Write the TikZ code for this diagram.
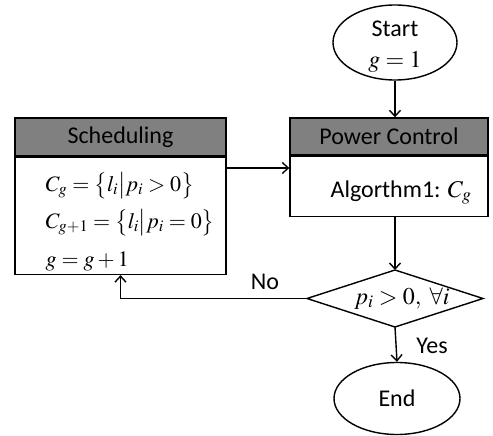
\documentclass[tikz,border=0pt]{standalone}
\usepackage{mathptmx}
\usepackage{fontspec}
\setmainfont{Carlito}
\usetikzlibrary{arrows.meta,shapes.geometric}
\definecolor{hdrgray}{RGB}{128,128,128}
\begin{document}
\begin{tikzpicture}[x=1pt,y=-1pt,line width=1.4pt,
  txt/.style={font=\fontsize{24}{28}\selectfont},
  mtxt/.style={font=\fontsize{22}{26}\selectfont},
  hdr/.style={draw,fill=hdrgray,inner sep=0pt,txt},
  body/.style={draw,fill=white,inner sep=0pt},
  term/.style={draw,ellipse,inner sep=0pt,txt},
  arr/.style={-{Straight Barb[length=6pt,width=11pt,line width=1.4pt]}},
  mline/.style={anchor=base west,inner sep=0pt,mtxt}]
\useasboundingbox (0,0) rectangle (493,436);

% start terminal
\node[term,minimum width=124pt,minimum height=75pt] (start) at (395,42.5) {};
\node[txt,anchor=base,inner sep=0pt] (startlbl) at (395,37) {Start};
\node[txt,anchor=base,inner sep=0pt] (startg) at (395,68) {$g=1$};

% scheduling block
\node[hdr,minimum width=211pt,minimum height=38pt] (sh) at (120.5,137) {Scheduling};
\node[body,minimum width=211pt,minimum height=117pt,anchor=north] (sb) at (sh.south) {};
\node[mline] (s1) at (45,191) {$C_g=\bigl\{l_i\big|p_i>0\bigr\}$};
\node[mline] (s2) at (45,228) {$C_{g+1}=\bigl\{l_i\big|p_i=0\bigr\}$};
\node[mline] (s3) at (45,266) {$g=g+1$};

% power control block
\node[hdr,minimum width=198pt,minimum height=37pt] (ph) at (389,136.5) {Power Control};
\node[body,minimum width=198pt,minimum height=60pt,anchor=north] (pb) at (ph.south) {};
\node[txt,anchor=base,inner sep=0pt] (alg) at (401,197) {Algorthm1: $C_g$};

% decision
\coordinate (dtop) at (395,270);
\coordinate (dbot) at (395,327);
\coordinate (dleft) at (307,298.5);
\coordinate (dright) at (483,298.5);
\draw[line join=miter] (dtop) -- (dright) -- (dbot) -- (dleft) -- cycle;
\node[txt,anchor=base,inner sep=0pt] (cond) at (402,304) {$p_i>0,\ \forall i$};

% end terminal
\node[term,minimum width=126pt,minimum height=72pt] (end) at (397,398.5) {End};

% connectors
\draw[arr] (start.south) -- (start.south |- ph.north);
\coordinate (sout) at (sb.east |- 0,168);
\draw[arr] (sout) -- (sout -| ph.west);
\draw[arr] (pb.south -| dtop) -- (dtop);
\draw[arr] (dleft) -| (sb.south);
\draw[arr] (dbot) -- (end.north);
\node[txt] (no) at (265,282) {No};
\node[txt] (yes) at (432,346) {Yes};
\end{tikzpicture}
\end{document}
